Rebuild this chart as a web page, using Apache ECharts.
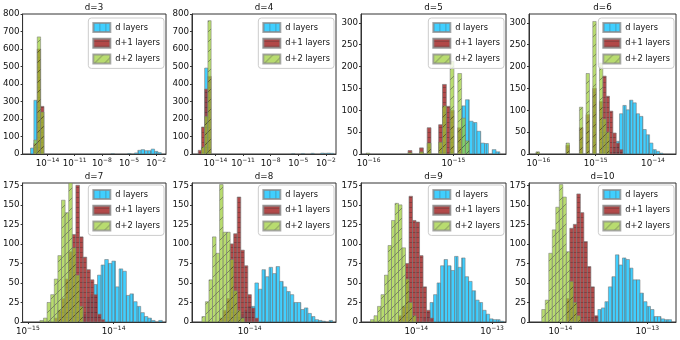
<!DOCTYPE html>
<html><head><meta charset="utf-8">
<script src="https://cdn.jsdelivr.net/npm/echarts@6/dist/echarts.min.js"></script>
<style>html,body{margin:0;padding:0;background:#fff}#c{width:680px;height:340px}</style>
</head><body><div id="c"></div>
<script>
// ---------- data (x in log10 units) ----------
const titles = ['d=3','d=4','d=5','d=6','d=7','d=8','d=9','d=10'];
const seriesNames = ['d layers','d+1 layers','d+2 layers'];
const binStart = [-15.87,-15.87,-16.031,-16.041,-14.986,-14.540,-14.652,-14.215];
const binWidth = [0.37,0.35,0.0451,0.0583,0.042,0.0372,0.0463,0.0404];
const xMin = [-16.75,-16.55,-16.09,-16.163,-15.062,-14.607,-14.731,-14.362];
const xMax = [-0.92,-0.9,-14.38,-13.598,-13.389,-13.091,-12.815,-12.669];
const xTicks = [[-14,-11,-8,-5,-2],[-14,-11,-8,-5,-2],[-16,-15],[-16,-15,-14],[-15,-14],[-14],[-14,-13],[-14,-13]];
const yMax = [800,800,320,320,178,178,178,178];
const yTicksBig = [0,100,200,300,400,500,600,700,800];
const yTicksMid = [0,50,100,150,200,250,300];
const yTicksSmall = [0,25,50,75,100,125,150,175];

const d3_d  = [34,307,0,0,0,0,0,0,0,0, 0,0,0,0,0,0,0,0,0,0, 0,0,0,0,2,0,0,0,0,3, 0,6,21,25,19,19,28,15,8];
const d3_d1 = [0,60,600,272];
const d3_d2 = [0,80,669,240];

const d4_d  = [0,0,491,0,0,0,0,0,0,0, 0,0,0,0,0,0,0,0,0,0, 0,0,0,0,0,0,0,0,0,2, 0,0,3,0,0,4,0,0,5,4, 5,4];
const d4_d1 = [21,154,371,444];
const d4_d2 = [0,40,215,762];

const d5_d  = [0,0,0,0,0,0,0,0,0,0, 0,0,0,0,0,0,0,0,0,0, 0,0,0,0,0,110,124,75,72,52, 25,24,0,10,5];
const d5_d1 = [0,0,0,0,0,0,0,0,0,0, 0,8,0,0,14,0,60,0,0,67, 159,109,100,0,60];
const d5_d2 = [2,0,0,0,0,0,0,0,0,0, 0,3,0,0,5,0,25,0,0,27, 110,0,212,0,184,82,30];

const d6_d  = [0,0,0,0,0,0,0,0,0,0, 0,0,0,0,0,0,0,0,0,0, 0,0,0,15,29,92,111,101,123,117, 92,86,56,44,25,10,6,2];
const d6_d1 = [3,0,0,0,0,0,0,0,0,20, 0,0,0,60,0,90,0,150,0,120, 178,132,98,48,25,10];
const d6_d2 = [5,0,0,0,0,0,0,0,0,25, 0,0,0,107,0,184,0,303,0,208, 80,50];

const d7_d  = [0,0,0,0,0,0,0,0,0,0, 0,0,0,0,0,10,30,35,48,60, 73,80,75,78,45,68,65,34,36,26, 20,12,7,5,2,0,2];
const d7_d1 = [0,0,0,0,0,0,0,5,15,30, 55,90,112,175,109,83,67,54,35,10, 3];
const d7_d2 = [0,0,0,2,5,25,35,55,85,156, 140,178,95,60,20];

const d8_d  = [0,0,0,0,0,0,0,0,0,0, 0,5,10,15,20,20,50,42,67,58, 70,62,71,52,45,39,35,25,25,16, 18,11,7,3,2,1,0,2];
const d8_d1 = [0,0,0,0,0,0,5,15,30,100, 113,160,92,72,35,18,5];
const d8_d2 = [0,7,26,54,109,88,176,115,115,80, 40,15,5];

const d9_d  = [0,0,0,0,0,0,0,0,0,0, 0,0,0,0,0,0,5,12,25,35, 50,72,80,72,66,84,70,82,58,52, 40,28,25,15,10,4,3,3,1];
const d9_d1 = [0,0,0,0,0,0,0,0,0,8, 20,75,161,130,128,85,45,15,5];
const d9_d2 = [0,3,8,20,35,60,98,130,152,150, 95,55,25,8];

const d10_d  = [0,0,0,0,0,0,0,0,0,0, 0,0,0,3,5,7,16,18,26,45, 58,86,73,82,80,69,54,54,37,26, 20,16,7,7,4,3,3];
const d10_d1 = [0,0,0,0,0,0,0,30,120,125, 164,140,103,71,45,8];
const d10_d2 = [16,28,88,118,147,176,160,90,52,25, 8];

const counts = [
  [d3_d,d3_d1,d3_d2],[d4_d,d4_d1,d4_d2],[d5_d,d5_d1,d5_d2],[d6_d,d6_d1,d6_d2],
  [d7_d,d7_d1,d7_d2],[d8_d,d8_d1,d8_d2],[d9_d,d9_d1,d9_d2],[d10_d,d10_d1,d10_d2]
];
const yTicks = [yTicksBig,yTicksBig,yTicksMid,yTicksMid,yTicksSmall,yTicksSmall,yTicksSmall,yTicksSmall];

// ---------- layout / style ----------
const FONT = 'DejaVu Sans';
const colLeft = [22,192,361,529];
const colWidth = [144,144,145,147];
const rowTop = [14,183];
const rowHeight = [140,139];
const legendTop = [18,185];
const baseColors = ['#00bfff','#a52a2a','#9acd32'];
const hatchKinds = ['|','-','/'];
const alphas = [0.75,0.85,0.7];

function makePattern(kind, base) {
  const s = kind === '/' ? 10 : (kind === '|' ? 6 : 5);
  const c = document.createElement('canvas');
  c.width = s; c.height = s;
  const g = c.getContext('2d');
  g.fillStyle = base; g.fillRect(0,0,s,s);
  g.strokeStyle = kind === '/' ? 'rgba(0,0,0,0.55)' : 'rgba(0,0,0,0.3)'; g.lineWidth = 1;
  g.beginPath();
  if (kind === '|') { g.moveTo(0.5,0); g.lineTo(0.5,s); }
  else if (kind === '-') { g.moveTo(0,2.5); g.lineTo(s,2.5); }
  else { g.moveTo(0,s); g.lineTo(s,0); g.moveTo(-1,1); g.lineTo(1,-1); g.moveTo(s-1,s+1); g.lineTo(s+1,s-1); }
  g.stroke();
  return c;
}
const patterns = hatchKinds.map((k,i) => ({image: makePattern(k, baseColors[i]), repeat: 'repeat'}));

const grids = [], xAxes = [], yAxes = [], series = [], legends = [], graphics = [];
for (let p = 0; p < 8; p++) {
  const col = p % 4, row = Math.floor(p / 4);
  const left = colLeft[col], top = rowTop[row], w = colWidth[col], h = rowHeight[row];
  grids.push({left: left, top: top, width: w, height: h, show: true, borderColor: '#333', borderWidth: 1, backgroundColor: 'transparent'});
  xAxes.push({
    type: 'value', gridIndex: p, min: xMin[p], max: xMax[p],
    axisLine: {show: true, onZero: false, lineStyle: {color: '#333', width: 1}},
    axisTick: {show: true, length: 2, customValues: xTicks[p], lineStyle: {color: '#333'}},
    splitLine: {show: false},
    axisLabel: {
      customValues: xTicks[p], margin: 3, color: '#111',
      formatter: v => '{b|10}{s|\u2212' + Math.round(-v) + '}',
      rich: {
        b: {fontFamily: FONT, fontSize: 8.7, lineHeight: 11, verticalAlign: 'bottom', color: '#111'},
        s: {fontFamily: FONT, fontSize: 6, lineHeight: 7, verticalAlign: 'top', color: '#111'}
      }
    }
  });
  yAxes.push({
    type: 'value', gridIndex: p, min: 0, max: yMax[p],
    axisLine: {show: true, lineStyle: {color: '#333', width: 1}},
    axisTick: {show: true, length: 2, customValues: yTicks[p], lineStyle: {color: '#333'}},
    splitLine: {show: false},
    axisLabel: {customValues: yTicks[p], margin: 3, fontFamily: FONT, fontSize: 8.7, color: '#111'}
  });
  for (let j = 0; j < 3; j++) {
    const s0 = binStart[p], bw = binWidth[p];
    const data = [];
    counts[p][j].forEach((c, i) => { if (c > 0) data.push([s0 + i * bw, s0 + (i + 1) * bw, c]); });
    series.push({
      type: 'custom', name: seriesNames[j], xAxisIndex: p, yAxisIndex: p, clip: true,
      itemStyle: {color: patterns[j], borderColor: '#888', borderWidth: 1, opacity: alphas[j]},
      data: data,
      renderItem: (params, api) => {
        const a = api.coord([api.value(0), api.value(2)]);
        const b = api.coord([api.value(1), 0]);
        return {
          type: 'rect',
          shape: {x: a[0], y: a[1], width: b[0] - a[0], height: b[1] - a[1]},
          style: {fill: patterns[j], stroke: 'rgba(120,120,120,0.85)', lineWidth: 0.9, opacity: alphas[j]}
        };
      }
    });
  }
  legends.push({
    orient: 'vertical', right: 680 - (left + w - 2), top: legendTop[row],
    data: seriesNames, icon: 'rect', itemWidth: 17, itemHeight: 9, itemGap: 4.7,
    padding: [4,4,4,4], backgroundColor: 'rgba(255,255,255,0.8)',
    borderColor: '#cccccc', borderWidth: 1, borderRadius: 3,
    textStyle: {fontFamily: FONT, fontSize: 8.2, color: '#111', lineHeight: 9},
    selectedMode: false
  });
  graphics.push({
    type: 'text', x: left + w / 2, y: top - 6,
    style: {text: titles[p], fontFamily: FONT, fontSize: 8.7, fill: '#111', align: 'center', verticalAlign: 'middle'}
  });
}

const chart = echarts.init(document.getElementById('c'), null, {renderer: 'canvas', width: 680, height: 340});
chart.setOption({
  animation: false,
  backgroundColor: '#fff',
  grid: grids, xAxis: xAxes, yAxis: yAxes, series: series, legend: legends,
  graphic: graphics
});
</script>
</body></html>
